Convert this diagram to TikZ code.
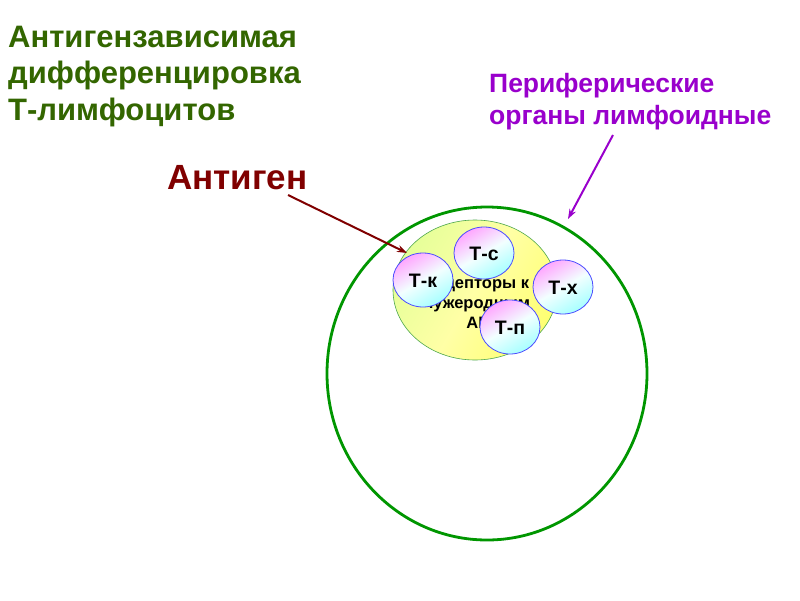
\documentclass[tikz,border=0pt]{standalone}
\usepackage{fontspec}
\usetikzlibrary{arrows.meta}
\setmainfont{Liberation Sans}
\definecolor{titlegreen}{RGB}{51,102,0}
\definecolor{purp}{RGB}{153,0,204}
\definecolor{agred}{RGB}{128,0,0}
\definecolor{organgreen}{RGB}{0,150,0}
\begin{document}
\begin{tikzpicture}[x=1pt,y=-1pt,
  organ/.style={draw=organgreen, line width=2.8pt},
  pocket/.style={draw=green!50!black!70, line width=0.6pt, left color=green!25!yellow!40, right color=yellow!55, middle color=yellow!35!white, shading angle=60},
  cell/.style={draw=blue!70!white, line width=0.8pt, left color=magenta!35, right color=cyan!35, middle color=white!95!cyan, shading angle=30},
  celltext/.style={font=\bfseries\fontsize{19.5}{19.5}\selectfont},
  title/.style={font=\bfseries\fontsize{31}{31}\selectfont, text=titlegreen, anchor=base west, inner sep=0pt},
  organlabel/.style={font=\bfseries\fontsize{26.5}{26.5}\selectfont, text=purp, anchor=base west, inner sep=0pt},
  antigen/.style={font=\bfseries\fontsize{35}{35}\selectfont, text=agred, anchor=base west, inner sep=0pt},
  inner/.style={font=\bfseries\fontsize{16.5}{16.5}\selectfont, anchor=base, inner sep=0pt},
  arr/.style={-{Stealth[length=10pt,width=7pt]}, line width=2pt}
]
\useasboundingbox (0,0) rectangle (800,600);
\fill[white] (0,0) rectangle (800,600);

\node[title] (title1) at (8,47) {Антигензависимая};
\node[title] (title2) at (8,83) {дифференцировка};
\node[title] (title3) at (8,120) {Т-лимфоцитов};
\node[organlabel] (periph1) at (489,92) {Периферические};
\node[organlabel] (periph2) at (489,124) {органы лимфоидные};
\node[antigen] (ag) at (167,189) {Антиген};

\draw[organ] (487,373.5) ellipse [x radius=160, y radius=166.5];
\coordinate (organtop) at (568,219);

\shade[pocket] (475,290) ellipse [x radius=82, y radius=70];
\node[inner] (rec1) at (477,288) {Рецепторы к};
\node[inner] (rec2) at (477,308) {чужеродным};
\node[inner] (rec3) at (477,328) {АГ};

\shade[cell] (484,253) ellipse [x radius=30, y radius=26];
\node[celltext] (tc) at (484,254) {Т-с};
\shade[cell] (423,280) ellipse [x radius=30, y radius=27];
\node[celltext] (tk) at (423,281) {Т-к};
\shade[cell] (563,287) ellipse [x radius=30, y radius=27];
\node[celltext] (tx) at (563,288) {Т-х};
\shade[cell] (510,327) ellipse [x radius=30, y radius=27];
\node[celltext] (tp) at (510,328) {Т-п};

\coordinate (agtail) at (288,195);
\coordinate (pockettip) at (407,253);
\coordinate (periphtail) at (613,135);
\draw[arr, agred] (agtail) -- (pockettip);
\draw[arr, purp] (periphtail) -- (organtop);
\end{tikzpicture}
\end{document}
